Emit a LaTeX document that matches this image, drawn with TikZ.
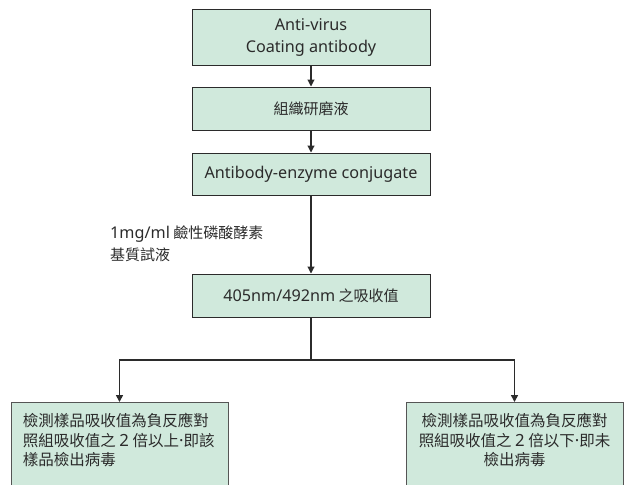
\documentclass[tikz,border=0pt]{standalone}
\usepackage{fontspec}
\setmainfont{Noto Sans CJK TC}
\newfontfamily\latinfont[Scale=1.08]{Noto Sans}
\newcommand{\lat}[1]{{\latinfont #1}}
\usetikzlibrary{arrows.meta}
\definecolor{boxfill}{HTML}{D0E9DC}
\definecolor{ink}{HTML}{2B2B2B}

\begin{document}
\begin{tikzpicture}[x=1pt,y=-1pt,
		box/.style = {draw=ink,line width=1pt,fill=boxfill,text=ink,align=center,
			minimum width=238pt,inner sep=0pt,font=\fontsize{15}{21.5}\selectfont},
		leaf/.style = {draw=ink!80,line width=1pt,fill=boxfill,text=ink,anchor=north,
			inner xsep=0pt,inner ysep=0pt,font=\fontsize{15.5}{19.5}\selectfont},
		arr/.style = {draw=ink,line width=1.1pt,-{Triangle[width=7pt,length=7pt]}}]
		\useasboundingbox (0,0) rectangle (630,485);
		\clip (0,0) rectangle (630,485);
		\node [box, minimum height=56pt] (coat) at (311,37.5) {\lat{Anti-virus}\\\lat{Coating antibody}};
		\node [box, minimum height=43pt] (tissue) at (311,108.5) {組織研磨液};
		\node [box, minimum height=42pt] (conj) at (311,174) {\lat{Antibody-enzyme conjugate}};
		\node [box, minimum height=43pt] (absorb) at (311,295.5) {\lat{405nm/492nm} 之吸收值};
		\node [anchor=west, inner sep=0pt, align=left, text=ink,
			font=\fontsize{15}{22}\selectfont] (substrate) at (110,244)
			{\lat{1mg/ml} 鹼性磷酸酵素\\基質試液};
		\node [leaf] (pos) at (119.5,402)
			{\parbox[t][100pt][t]{217pt}{\raggedright\vspace*{11pt}\hspace*{12pt}檢測樣品吸收值為負反應對\\
			\hspace*{12pt}照組吸收值之 \lat{2} 倍以上\lat{·}即該\\
			\hspace*{12pt}樣品檢出病毒}};
		\node [leaf] (neg) at (514.5,402)
			{\parbox[t][100pt][t]{217pt}{\centering\vspace*{11pt}檢測樣品吸收值為負反應對\\
			照組吸收值之 \lat{2} 倍以下\lat{·}即未\\
			檢出病毒}};
		\coordinate (split) at (311,360);
		\draw [arr] (coat) -- (tissue);
		\draw [arr] (tissue) -- (conj);
		\draw [arr] (conj) -- (absorb);
		\draw [draw=ink, line width=1.6pt] (absorb) -- (split);
		\draw [arr, line width=1.6pt] (split) -| (pos.north);
		\draw [arr, line width=1.6pt] (split) -| (neg.north);
	\end{tikzpicture}
\end{document}
